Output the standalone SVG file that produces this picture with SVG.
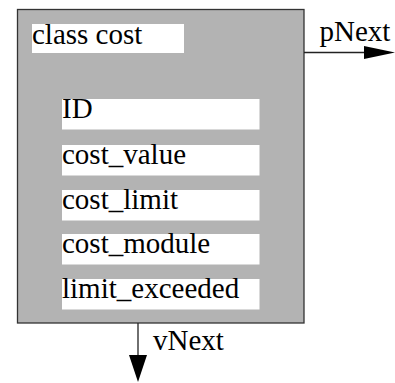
<svg xmlns="http://www.w3.org/2000/svg" width="395" height="383" viewBox="0 0 395 383">
  <style>
    .lbl { font-family: 'Liberation Serif', 'DejaVu Serif', serif; font-size: 29px; fill: #000; }
    .field { fill: #fff; }
    .wire { stroke: #222; stroke-width: 1.3; fill: none; }
    .head { fill: #000; }
  </style>
  <rect width="395" height="383" fill="#fff"/>

  <!-- class box with its title and member fields -->
  <g id="cost">
    <rect x="17.5" y="9.5" width="286.5" height="313.5" fill="#b3b3b3" stroke="#333" stroke-width="1.3"/>
    <rect class="field" x="32" y="24" width="152" height="29"/>
    <text class="lbl" x="32" y="44">class cost</text>
  </g>
  <g id="field-id">
    <rect class="field" x="62" y="99" width="197.5" height="30.5"/>
    <text class="lbl" x="62" y="118">ID</text>
  </g>
  <g id="field-cost-value">
    <rect class="field" x="62" y="145" width="197.5" height="30.5"/>
    <text class="lbl" x="62" y="164.3">cost_value</text>
  </g>
  <g id="field-cost-limit">
    <rect class="field" x="62" y="190" width="197.5" height="30.5"/>
    <text class="lbl" x="62" y="209.3">cost_limit</text>
  </g>
  <g id="field-cost-module">
    <rect class="field" x="62" y="234" width="197.5" height="30.5"/>
    <text class="lbl" x="62" y="253.3">cost_module</text>
  </g>
  <g id="field-limit-exceeded">
    <rect class="field" x="62" y="279" width="197.5" height="30.5"/>
    <text class="lbl" x="62" y="298.3">limit_exceeded</text>
  </g>

  <!-- outgoing links -->
  <g id="connectors">
    <line class="wire" x1="304" y1="52.5" x2="366" y2="52.5"/>
    <polygon class="head" points="364,46 395,52.5 364,59"/>
    <text class="lbl" x="319.5" y="40.5">pNext</text>

    <line class="wire" x1="138" y1="323" x2="138" y2="357"/>
    <polygon class="head" points="129,355 147,355 138,382"/>
    <text class="lbl" x="153" y="350">vNext</text>
  </g>
</svg>
